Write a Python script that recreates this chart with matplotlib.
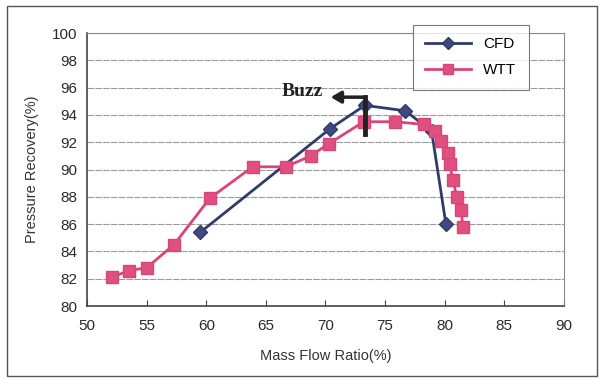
import matplotlib.pyplot as plt
from matplotlib.patches import Rectangle

plt.rcParams['font.family'] = ['Liberation Sans', 'DejaVu Sans']

# CFD results
cfd_mfr = [59.5, 70.4, 73.3, 76.7, 78.9, 80.1]
cfd_pr = [85.4, 93.0, 94.7, 94.3, 92.8, 86.0]

# wind tunnel test
wtt_mfr = [52.1, 53.5, 55.0, 57.3, 60.3, 63.9, 66.7, 68.75, 70.3, 73.2, 75.8,
           78.3, 79.2, 79.7, 80.3, 80.4, 80.7, 81.0, 81.4, 81.5]
wtt_pr = [82.1, 82.6, 82.8, 84.5, 87.9, 90.2, 90.2, 91.0, 91.9, 93.5, 93.5,
          93.3, 92.8, 92.1, 91.2, 90.4, 89.2, 88.0, 87.0, 85.8]

# buzz marker
buzz_x = 73.3
buzz_bar = (92.6, 95.3)
buzz_arrow_end = 70.2

fig = plt.figure(figsize=(6.03, 3.79), dpi=100)
fig.patches.append(Rectangle((0.012, 0.008), 0.978, 0.975, transform=fig.transFigure,
                             fill=False, edgecolor='#555555', linewidth=1.0))
ax = fig.add_axes([0.1443, 0.1926, 0.791, 0.7203])

ax.set_xlim(50, 90)
ax.set_ylim(80, 100)
ax.set_xticks(range(50, 91, 5))
ax.set_yticks(range(80, 101, 2))
ax.yaxis.grid(True, color='#9a9a9a', linewidth=0.8, linestyle=(0, (6, 1)))
ax.set_axisbelow(True)
for side in ['left', 'bottom']:
    ax.spines[side].set_color('#444444')
    ax.spines[side].set_linewidth(1.2)
for side in ['top', 'right']:
    ax.spines[side].set_color('#888888')
    ax.spines[side].set_linewidth(0.8)
ax.tick_params(axis='x', direction='in', length=4, color='#444444', labelsize=11, pad=9)
ax.tick_params(axis='y', length=0, labelsize=11, pad=7)
for lbl in ax.get_xticklabels() + ax.get_yticklabels():
    lbl.set_color('#2a2a2a')

ax.plot(cfd_mfr, cfd_pr, color='#2f3c6a', linewidth=2, marker='D', markersize=7.5,
        markerfacecolor='#3c4a80', markeredgecolor='#2f3c6a', label='CFD', zorder=3)
ax.plot(wtt_mfr, wtt_pr, color='#d8457a', linewidth=2, marker='s', markersize=9,
        markerfacecolor='#e0507f', markeredgecolor='#d8457a', label='WTT', zorder=4)

ax.plot([buzz_x, buzz_x], buzz_bar, color='#222222', linewidth=3.5, zorder=5)
ax.annotate('', xy=(buzz_arrow_end, buzz_bar[1]), xytext=(buzz_x + 0.15, buzz_bar[1]),
            arrowprops=dict(arrowstyle='-|>,head_length=0.6,head_width=0.35',
                            color='#222222', linewidth=2.5), zorder=5)
ax.text(buzz_arrow_end - 0.4, buzz_bar[1] + 0.45, 'Buzz', ha='right', va='center',
        fontsize=14, fontweight='bold', family=['Liberation Serif', 'DejaVu Serif'],
        color='#222222')

ax.set_xlabel('Mass Flow Ratio(%)', fontsize=10.5, color='#333333', labelpad=12)
ax.set_ylabel('Pressure Recovery(%)', fontsize=10.5, color='#333333', labelpad=9)

leg = ax.legend(loc='upper left', bbox_to_anchor=(413 / 603, 1 - 25 / 379),
                bbox_transform=fig.transFigure, fontsize=11, frameon=True,
                fancybox=False, edgecolor='#555555', handlelength=3.0,
                borderpad=0.8, labelspacing=0.8, borderaxespad=0, markerscale=0.85)
leg.get_frame().set_linewidth(0.8)

fig.savefig('out.png', dpi=100)
